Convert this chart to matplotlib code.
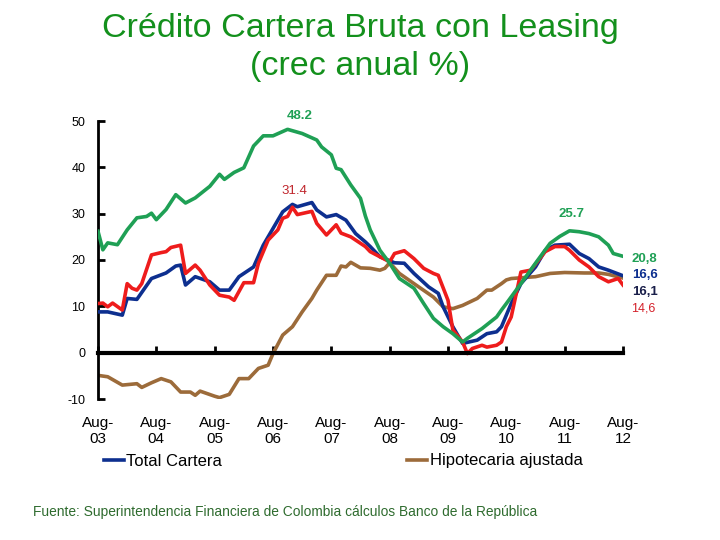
import matplotlib
matplotlib.use("Agg")
import matplotlib.pyplot as plt

plt.rcParams["font.family"] = ["Liberation Sans", "DejaVu Sans"]
plt.rcParams["axes.unicode_minus"] = False

# months counted from Aug-03 (crec anual %)
m_total = [0, 2, 5, 6, 8, 11, 14, 16, 17, 18, 20, 23, 25, 27, 29, 32, 34, 36, 38, 40, 41, 44,
           45, 47, 49, 51, 53, 55, 56, 58, 61, 63, 65, 68, 70, 71, 73, 75, 78, 80, 82, 83, 84,
           85, 87, 90, 92, 94, 97, 99, 101, 103, 105, 108]
total = [8.8, 8.8, 8.1, 11.7, 11.5, 16.0, 17.2, 18.7, 18.9, 14.6, 16.4, 15.3, 13.5, 13.5, 16.4,
         18.5, 23.2, 26.8, 30.4, 32.0, 31.5, 32.4, 30.8, 29.3, 29.8, 28.6, 25.7, 23.9, 22.9, 20.7,
         19.4, 19.3, 17.1, 14.2, 12.8, 9.9, 5.6, 2.0, 2.7, 4.1, 4.5, 5.6, 8.1, 10.6, 14.9, 18.5,
         22.1, 23.2, 23.4, 21.4, 20.3, 18.5, 17.8, 16.6]

m_comercial = [0, 1, 2, 3, 5, 6, 7, 8, 9, 11, 13, 14, 15, 17, 18, 20, 21, 23, 25, 27, 28, 30, 32,
               33, 35, 37, 38, 39, 40, 41, 44, 45, 47, 49, 50, 52, 55, 56, 58, 60, 61, 63, 65, 67,
               69, 70, 72, 73, 75, 76, 77, 79, 80, 82, 83, 84, 85, 87, 89, 92, 94, 96, 97, 99,
               101, 103, 105, 107, 108]
comercial = [10.6, 10.7, 9.9, 10.7, 9.2, 14.9, 13.9, 13.5, 14.9, 21.1, 21.6, 21.8, 22.7, 23.2,
             17.1, 18.9, 17.8, 14.6, 12.4, 12.0, 11.3, 15.1, 15.1, 19.3, 24.3, 26.5, 29.0, 29.4,
             31.4, 29.8, 30.5, 27.9, 25.4, 27.6, 25.8, 25.0, 22.9, 21.8, 20.7, 19.6, 21.4, 22.0,
             20.3, 18.2, 17.1, 16.7, 11.3, 4.9, 2.3, -0.2, 0.9, 1.6, 1.2, 1.6, 2.3, 5.6, 7.7,
             17.4, 17.8, 21.8, 22.9, 22.9, 22.1, 20.0, 18.5, 16.4, 15.3, 16.0, 14.6]

m_consumo = [0, 1, 2, 4, 6, 8, 10, 11, 12, 14, 16, 18, 20, 23, 25, 26, 28, 30, 32, 34, 36, 39,
             42, 45, 46, 48, 49, 50, 52, 54, 55, 56, 58, 60, 62, 65, 67, 69, 71, 73, 75, 76, 79,
             82, 83, 84, 87, 90, 93, 95, 97, 99, 101, 103, 105, 106, 108]
consumo = [26.2, 22.2, 23.7, 23.3, 26.5, 29.1, 29.4, 30.1, 28.7, 30.9, 34.1, 32.3, 33.4, 35.9,
           38.5, 37.4, 38.9, 39.9, 44.6, 46.8, 46.8, 48.2, 47.3, 45.9, 44.4, 42.7, 39.8, 39.5,
           36.2, 33.3, 29.5, 26.5, 22.1, 19.3, 16.0, 13.9, 10.6, 7.4, 5.6, 4.1, 2.3, 3.1, 5.2,
           7.7, 9.2, 10.6, 14.9, 19.3, 23.6, 25.1, 26.3, 26.1, 25.7, 25.0, 23.2, 21.4, 20.8]

m_hipot = [0, 2, 5, 8, 9, 11, 13, 15, 17, 19, 20, 21, 24, 25, 27, 29, 31, 33, 35, 36, 38, 40, 42,
           44, 45, 47, 49, 50, 51, 52, 54, 56, 58, 59, 60, 62, 65, 69, 71, 73, 75, 78, 80, 81,
           83, 84, 85, 90, 93, 96, 100, 103, 105, 108]
hipot = [-4.9, -5.2, -7.0, -6.7, -7.5, -6.5, -5.6, -6.3, -8.5, -8.5, -9.2, -8.3, -9.4, -9.7,
         -9.0, -5.6, -5.6, -3.4, -2.7, -0.2, 3.8, 5.6, 8.8, 11.7, 13.5, 16.7, 16.7, 18.7, 18.5,
         19.5, 18.3, 18.2, 17.8, 18.2, 19.4, 17.1, 14.9, 12.0, 9.9, 9.5, 10.2, 11.7, 13.5, 13.5,
         14.9, 15.7, 16.0, 16.4, 17.1, 17.3, 17.2, 17.2, 16.9, 16.1]

tick_months = [0, 12, 24, 36, 48, 60, 72, 84, 96, 108]
tick_labels = ["Aug-\n03", "Aug-\n04", "Aug-\n05", "Aug-\n06", "Aug-\n07",
               "Aug-\n08", "Aug-\n09", "Aug-\n10", "Aug-\n11", "Aug-\n12"]
y_ticks = [-10, 0, 10, 20, 30, 40, 50]

NAVY = "#0d2f8f"
RED = "#ee1c1c"
GREEN = "#1fa055"
BROWN = "#9c6b3a"
TITLE_GREEN = "#13901c"

fig = plt.figure(figsize=(7.2, 5.4), dpi=100)
ax = fig.add_axes([98 / 720, 1 - 399 / 540, 525 / 720, 278 / 540])

ax.plot(m_hipot, hipot, color=BROWN, lw=2.6, zorder=2, label="Hipotecaria ajustada")
ax.plot(m_total, total, color=NAVY, lw=2.6, zorder=3, label="Total Cartera")
ax.plot(m_comercial, comercial, color=RED, lw=2.6, zorder=4)
ax.plot(m_consumo, consumo, color=GREEN, lw=2.6, zorder=5)

ax.set_xlim(0, 108)
ax.set_ylim(-10, 50)
ax.set_yticks(y_ticks)
ax.set_xticks(tick_months)
ax.tick_params(axis="x", direction="in", length=5, width=2, labelbottom=False)
ax.tick_params(axis="y", direction="in", length=5, width=2, labelsize=9, pad=9)
for s in ["top", "right"]:
    ax.spines[s].set_visible(False)
ax.spines["left"].set_linewidth(2)
ax.spines["bottom"].set_position(("data", 0))
ax.spines["bottom"].set_linewidth(3)
ax.spines["bottom"].set_zorder(6)

# category labels sit below the plot, like Excel's "low" label position
sec = ax.secondary_xaxis("bottom")
sec.set_xticks(tick_months, labels=tick_labels)
sec.tick_params(length=0, pad=12, labelsize=11)
sec.spines["bottom"].set_visible(False)

# value labels
ax.text(41.5, 51.1, "48.2", color=GREEN, fontsize=9.5, fontweight="bold", ha="center", va="center")
ax.text(40.5, 34.9, "31.4", color="#c0262c", fontsize=9.5, ha="center", va="center")
ax.text(97.5, 30.0, "25.7", color=GREEN, fontsize=9.5, fontweight="bold", ha="center", va="center")
ax.text(109.8, 20.3, "20,8", color=GREEN, fontsize=9.5, fontweight="bold", ha="left", va="center")
ax.text(109.8, 16.7, "16,6", color=NAVY, fontsize=9.5, fontweight="bold", ha="left", va="center")
ax.text(109.8, 13.0, "16,1", color="#1a1f4a", fontsize=9.5, fontweight="bold", ha="left", va="center")
ax.text(109.6, 9.6, "14,6", color="#d4202a", fontsize=9, ha="left", va="center")

fig.text(0.5, 1 - 28 / 540, "Crédito Cartera Bruta con Leasing", color=TITLE_GREEN,
         fontsize=24.5, ha="center", va="center")
fig.text(0.5, 1 - 66 / 540, "(crec anual %)", color=TITLE_GREEN,
         fontsize=24.5, ha="center", va="center")

handles, labels = ax.get_legend_handles_labels()
fig.legend(handles[::-1], labels[::-1], ncol=2, frameon=False, loc="center left",
           bbox_to_anchor=(104 / 720, 1 - 461 / 540), borderpad=0, borderaxespad=0,
           handlelength=1.2, handletextpad=0.15, columnspacing=11.1, fontsize=12)

fig.text(33 / 720, 1 - 512 / 540,
         "Fuente: Superintendencia Financiera de Colombia cálculos Banco de la República",
         color="#2e6b2e", fontsize=9.9, ha="left", va="center")

fig.savefig("out.png", dpi=100)
